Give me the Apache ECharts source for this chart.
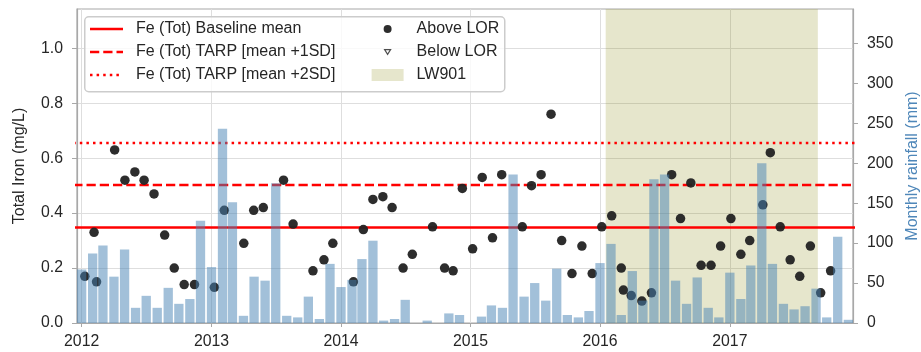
<!DOCTYPE html>
<html>
<head>
<meta charset="utf-8">
<script src="https://cdn.jsdelivr.net/npm/echarts@6/dist/echarts.min.js"></script>
<style>
  html, body { margin: 0; padding: 0; background: #fff; }
  #chart { width: 921px; height: 352px; }
</style>
</head>
<body>
<div id="chart"></div>
<script>
// x 轴范围
const xStart = '2012-01-01';
const xEnd = '2017-12-01';
// 水平线两端 (超出轴范围，由网格裁剪)
const lineFrom = '2011-11-01';
const lineTo = '2018-02-01';

// 月降雨量 (mm)，2012-01 到 2017-12
const rainYears = [2012, 2013, 2014, 2015, 2016, 2017];
const rainfall = [
  67, 87, 97, 58, 92, 19, 34, 19, 44, 24, 30, 128,
  70, 243, 151, 9, 58, 53, 175, 9, 7, 33, 5, 74,
  45, 54, 80, 103, 3, 5, 29, 0, 3, 0, 12, 10,
  0, 8, 22, 19, 186, 33, 50, 28, 68, 10, 7, 15,
  75, 99, 10, 65, 28, 180, 186, 53, 24, 57, 19, 7,
  63, 30, 72, 200, 74, 24, 17, 21, 43, 7, 108, 4
];

// 总铁采样日期和数值 (mg/L)
const sampleDates = [
  '2012-01-10', '2012-02-05', '2012-02-12', '2012-04-03', '2012-05-02', '2012-05-30',
  '2012-06-25', '2012-07-23', '2012-08-22', '2012-09-18', '2012-10-16', '2012-11-14',
  '2013-01-09', '2013-02-06', '2013-04-02', '2013-04-30', '2013-05-27', '2013-07-23',
  '2013-08-19', '2013-10-14', '2013-11-14', '2013-12-09',
  '2014-02-05', '2014-03-05', '2014-04-01', '2014-04-29', '2014-05-25', '2014-06-25',
  '2014-07-21', '2014-09-16', '2014-10-20', '2014-11-13', '2014-12-09',
  '2015-01-07', '2015-02-03', '2015-03-04', '2015-03-30', '2015-05-27', '2015-06-22',
  '2015-07-19', '2015-08-16', '2015-09-15', '2015-10-14', '2015-11-11', '2015-12-10',
  '2016-01-06', '2016-02-03', '2016-03-01', '2016-03-07', '2016-03-29', '2016-04-28',
  '2016-05-25', '2016-07-21', '2016-08-15', '2016-09-13', '2016-10-12', '2016-11-09',
  '2016-12-06',
  '2017-01-04', '2017-02-01', '2017-02-26', '2017-04-04', '2017-04-25', '2017-05-23',
  '2017-06-20', '2017-07-17', '2017-08-16', '2017-09-14', '2017-10-12'
];
const ironValues = [
  0.17, 0.33, 0.15, 0.63, 0.52, 0.55,
  0.52, 0.47, 0.32, 0.20, 0.14, 0.14,
  0.13, 0.41, 0.29, 0.41, 0.42, 0.52,
  0.36, 0.19, 0.23, 0.29,
  0.15, 0.34, 0.45, 0.46, 0.42, 0.20,
  0.25, 0.35, 0.20, 0.19, 0.49,
  0.27, 0.53, 0.31, 0.54, 0.35, 0.50,
  0.54, 0.76, 0.30, 0.18, 0.28, 0.18,
  0.35, 0.39, 0.20, 0.12, 0.10, 0.08,
  0.11, 0.54, 0.38, 0.51, 0.21, 0.21,
  0.28,
  0.38, 0.25, 0.30, 0.43, 0.62, 0.35,
  0.23, 0.17, 0.28, 0.11, 0.19
];

// 基线和 TARP 阈值
const baselineMean = 0.348;
const tarp1SD = 0.502;
const tarp2SD = 0.655;

// LW901 时段
const lw901Start = '2016-01-17';
const lw901End = '2017-09-06';

// 轴刻度
const ironTicks = [0, 0.2, 0.4, 0.6, 0.8, 1.0];
const rainTicks = [0, 50, 100, 150, 200, 250, 300, 350];

// 组装数据
let rainData = [];
for (let y = 0; y < rainYears.length; y++) {
  for (let m = 0; m < 12; m++) {
    let d = rainYears[y] + '-' + String(m + 1).padStart(2, '0') + '-01';
    rainData.push([d, rainfall[y * 12 + m]]);
  }
}
let ironData = sampleDates.map((d, i) => [d, ironValues[i]]);

const font = 'Liberation Sans, Arial, sans-serif';
const textColor = '#262626';
const spineColor = '#a8a8a8';
const gridColor = '#dedede';
const tickSize = 15.8;

// 图例图标 (33x12 的框，前后两个点撑开宽度)
const edge = 'M0,0L0,0M33,12L33,12';
const iconSolid = 'path://' + edge + 'M0,4.75L33,4.75L33,7.25L0,7.25Z';
const iconDashed = 'path://' + edge +
  'M0,4.75L9.25,4.75L9.25,7.25L0,7.25Z' +
  'M13.25,4.75L22.5,4.75L22.5,7.25L13.25,7.25Z' +
  'M26.5,4.75L33,4.75L33,7.25L26.5,7.25Z';
const iconDotted = 'path://' + edge +
  'M0,4.75L2.5,4.75L2.5,7.25L0,7.25Z' +
  'M6.6,4.75L9.1,4.75L9.1,7.25L6.6,7.25Z' +
  'M13.2,4.75L15.7,4.75L15.7,7.25L13.2,7.25Z' +
  'M19.8,4.75L22.3,4.75L22.3,7.25L19.8,7.25Z' +
  'M26.4,4.75L28.9,4.75L28.9,7.25L26.4,7.25Z' +
  'M33,4.75L33,7.25Z';
const edge2 = 'M0,0L0,0M32,12L32,12';
const iconDot = 'path://' + edge2 + 'M12,6a4,4 0 1,0 8,0a4,4 0 1,0 -8,0Z';
const iconTri = 'path://' + edge2 + 'M13,3.6L19,3.6L16,8.4Z';

// 水平线
function hline(name, value, type) {
  return {
    name: name,
    type: 'line',
    data: [[lineFrom, value], [lineTo, value]],
    symbol: 'none',
    clip: true,
    z: 3,
    silent: true,
    lineStyle: { color: '#ff0000', width: 2.5, type: type, cap: 'butt' },
    itemStyle: { color: '#ff0000' }
  };
}

let chart = echarts.init(document.getElementById('chart'));

let legendText = { fontFamily: font, fontSize: 16, color: textColor, lineHeight: 18, padding: [0, 0, 0, 8] };

let option = {
  animation: false,
  textStyle: { fontFamily: font },
  grid: {
    left: 77, right: 68, top: 9, bottom: 29,
    outerBoundsMode: 'none',
    containLabel: false,
    show: true, borderColor: spineColor, borderWidth: 1.2, backgroundColor: 'transparent'
  },
  graphic: [{
    type: 'rect',
    left: 84, top: 16, z: 3,
    shape: { width: 420, height: 75, r: 4 },
    style: { fill: 'rgba(255,255,255,0.8)', stroke: '#cccccc', lineWidth: 1.5 }
  }],
  legend: [
    {
      left: 90, top: 20, orient: 'vertical', padding: 0,
      itemWidth: 33, itemHeight: 12, itemGap: 5, z: 5,
      selectedMode: false,
      textStyle: legendText,
      data: [
        { name: 'Fe (Tot) Baseline mean', icon: iconSolid, itemStyle: { color: '#ff0000', borderWidth: 0 } },
        { name: 'Fe (Tot) TARP [mean +1SD]', icon: iconDashed, itemStyle: { color: '#ff0000', borderWidth: 0 } },
        { name: 'Fe (Tot) TARP [mean +2SD]', icon: iconDotted, itemStyle: { color: '#ff0000', borderWidth: 0 } }
      ]
    },
    {
      left: 371, top: 20, orient: 'vertical', padding: 0,
      itemWidth: 32, itemHeight: 12, itemGap: 5, z: 5,
      selectedMode: false,
      textStyle: legendText,
      data: [
        { name: 'Above LOR', icon: iconDot, itemStyle: { color: '#222222', borderWidth: 0 } },
        { name: 'Below LOR', icon: iconTri, itemStyle: { color: '#ffffff', borderColor: '#222222', borderWidth: 1.2 } },
        { name: 'LW901', icon: 'rect', itemStyle: { color: 'rgba(128,128,0,0.2)', borderWidth: 0 } }
      ]
    }
  ],
  xAxis: {
    type: 'time',
    min: xStart,
    max: xEnd,
    minInterval: 365 * 24 * 3600 * 1000,
    maxInterval: 366 * 24 * 3600 * 1000,
    axisLine: { show: true, lineStyle: { color: spineColor, width: 1.2 } },
    axisTick: { show: true, length: 4, lineStyle: { color: spineColor } },
    axisLabel: {
      fontSize: tickSize, color: textColor, margin: 11, fontFamily: font,
      formatter: '{yyyy}', showMaxLabel: false
    },
    splitLine: { show: true, lineStyle: { color: gridColor, width: 1 } }
  },
  yAxis: [
    {
      type: 'value',
      min: 0, max: 1.143, interval: 0.2,
      name: 'Total Iron (mg/L)',
      nameLocation: 'middle', nameGap: 49,
      nameTextStyle: { fontSize: 16, color: textColor, fontFamily: font },
      axisLine: { show: true, lineStyle: { color: spineColor, width: 1.2 } },
      axisTick: { show: true, length: 5, lineStyle: { color: spineColor }, customValues: ironTicks },
      axisLabel: {
        fontSize: tickSize, color: textColor, margin: 14, fontFamily: font,
        customValues: ironTicks,
        formatter: v => v.toFixed(1)
      },
      splitLine: { show: true, lineStyle: { color: gridColor, width: 1 } }
    },
    {
      type: 'value',
      min: 0, max: 393, interval: 50,
      position: 'right',
      name: 'Monthly rainfall (mm)',
      nameLocation: 'middle', nameGap: 52,
      nameTextStyle: { fontSize: 16, color: '#4f87b9', fontFamily: font },
      axisLine: { show: true, lineStyle: { color: spineColor, width: 1.2 } },
      axisTick: { show: true, length: 5, lineStyle: { color: spineColor }, customValues: rainTicks },
      axisLabel: {
        fontSize: tickSize, color: textColor, margin: 14, fontFamily: font,
        customValues: rainTicks
      },
      splitLine: { show: false }
    }
  ],
  series: [
    {
      // LW901 时段阴影
      name: 'LW901',
      type: 'line',
      data: [],
      z: 1,
      itemStyle: { color: 'rgba(128,128,0,0.2)' },
      markArea: {
        silent: true,
        itemStyle: { color: 'rgba(128,128,0,0.2)' },
        data: [[{ xAxis: lw901Start }, { xAxis: lw901End }]]
      }
    },
    hline('Fe (Tot) Baseline mean', baselineMean, 'solid'),
    hline('Fe (Tot) TARP [mean +1SD]', tarp1SD, [9.25, 4]),
    hline('Fe (Tot) TARP [mean +2SD]', tarp2SD, [2.5, 4.1]),
    {
      name: 'Above LOR',
      type: 'scatter',
      data: ironData,
      symbol: 'circle',
      symbolSize: 9.5,
      z: 4,
      itemStyle: { color: '#222222', opacity: 0.95 }
    },
    {
      name: 'Below LOR',
      type: 'scatter',
      data: [],
      symbol: 'triangle',
      symbolRotate: 180,
      symbolSize: 7,
      z: 4,
      itemStyle: { color: '#ffffff', borderColor: '#222222', borderWidth: 1 }
    },
    {
      name: 'Monthly rainfall',
      type: 'bar',
      yAxisIndex: 1,
      data: rainData,
      barWidth: 9.3,
      z: 6,
      itemStyle: { color: 'rgba(70,130,180,0.5)' }
    }
  ]
};

chart.setOption(option);
</script>
</body>
</html>
